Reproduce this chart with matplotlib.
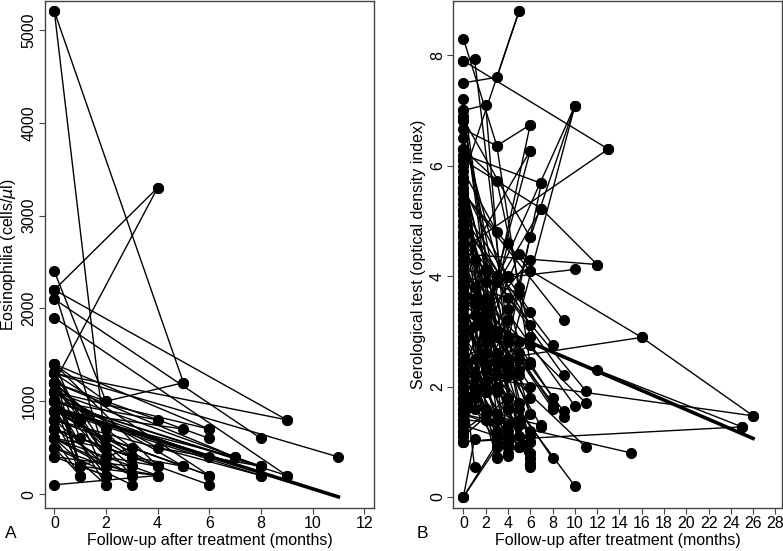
import matplotlib
matplotlib.use("Agg")
import matplotlib.pyplot as plt

plt.rcParams['font.family'] = ['Liberation Sans', 'DejaVu Sans']
plt.rcParams['font.size'] = 11.5

# Panel A: eosinophilia per patient (months after treatment, cells/ul)
a_months = [
    [0, 5], [0, 2], [0, 4], [0, 4], [0, 2], [0, 9], [0, 8], [0, 9], [0, 2],
    [0, 6], [0, 11], [0, 9], [0, 7], [0, 8], [0, 6], [0, 4], [0, 5], [0, 8],
    [0, 6], [0, 5], [0, 4], [0, 4], [0, 6], [0, 3], [0, 3], [0, 2], [0, 2],
    [0, 2], [0, 2], [0, 2], [0, 1], [0, 1], [0, 1], [0, 4], [0, 2], [0, 3],
    [0, 2], [0, 3], [0, 4], [0, 6], [0, 5], [0, 2], [0, 3], [0, 2], [0, 1],
    [0, 2], [0, 1], [0, 3], [0, 8], [0, 8], [0, 2], [0, 4], [0, 2, 5],
    [0, 1, 2], [0, 1, 3], [0, 2, 4], [0, 6], [0, 7], [0, 9], [0, 3],
    [0, 1, 2], [0, 2, 3], [0, 1, 4], [0, 2], [0, 3], [0, 1], [0, 2, 6],
    [0, 4, 8], [0, 3, 5], [0, 2, 4], [0, 1, 3], [0, 6],
]
a_values = [
    [5200, 1200], [5200, 500], [2200, 3300], [1200, 3300], [2400, 1000],
    [2200, 800], [2100, 600], [1900, 200], [2200, 400], [1400, 700],
    [1300, 400], [1300, 800], [1200, 400], [1100, 300], [1000, 400],
    [1000, 800], [900, 700], [900, 200], [800, 200], [800, 300], [700, 300],
    [600, 200], [700, 100], [600, 200], [500, 100], [1000, 100], [900, 200],
    [800, 300], [1300, 400], [700, 500], [1100, 300], [600, 200], [900, 800],
    [100, 200], [1200, 700], [1100, 500], [600, 100], [900, 400], [1400, 300],
    [1300, 200], [1100, 300], [500, 300], [700, 200], [400, 200], [500, 200],
    [1400, 200], [1200, 300], [1000, 300], [800, 200], [1000, 300], [600, 500],
    [900, 300], [1400, 1000, 1200], [1300, 300, 200], [1100, 300, 500],
    [1000, 400, 300], [1200, 600], [900, 400], [1000, 200], [400, 300],
    [1200, 800, 400], [1000, 500, 200], [800, 300, 200], [1300, 500],
    [1200, 400], [1000, 200], [900, 600, 200], [1100, 500, 300],
    [700, 400, 300], [600, 300, 200], [1300, 600, 400], [1100, 700],
]
a_trend_x = [0, 11]
a_trend_y = [930, -30]

# Panel B: serological test per patient (months, optical density index)
b_months = [
    [0, 3, 6], [0, 1, 4], [0, 13], [0, 3, 5], [0, 5], [0, 2, 4], [0, 6, 10],
    [0, 10], [0, 13], [0, 3, 6], [0, 6], [0, 3, 6], [0, 7], [0, 7, 12],
    [0, 6, 16, 26], [0, 3], [0, 2, 6], [0, 4, 10], [0, 12], [0, 9], [0, 6],
    [0, 6], [0, 8], [0, 12, 25], [0, 25], [0, 26], [0, 15], [0, 16], [0, 9],
    [0, 11], [0, 11], [0, 10], [0, 8], [0, 8], [0, 9], [0, 9], [0, 7], [0, 6],
    [0, 6], [0, 6], [0, 8], [0, 11], [0, 10], [0, 3], [0, 3], [0, 4], [0, 4],
    [0, 1], [0, 1], [0, 6], [0, 6], [0, 6], [0, 4], [0, 5], [0, 2], [0, 3],
    [0, 4], [0, 5], [0, 3], [0, 2], [0, 4], [0, 6], [0, 1, 3], [0, 2, 5],
    [0, 1, 2], [0, 2, 4], [0, 3, 6], [0, 2, 6], [0, 4, 8], [0, 1, 5],
    [0, 3, 6], [0, 2, 6], [0, 4, 6], [0, 1, 3], [0, 2, 4], [0, 5], [0, 3],
    [0, 4], [0, 2], [0, 5], [0, 4], [0, 3], [0, 2], [0, 6], [0, 1, 4], [0, 4],
    [0, 3], [0, 2], [0, 5], [0, 4], [0, 6], [0, 1, 4], [0, 5], [0, 4], [0, 3],
    [0, 6], [0, 2], [0, 3, 6], [0, 3], [0, 4], [0, 1, 2], [0, 2, 5],
    [0, 1, 3], [0, 5, 7], [0, 2, 6],
    [0, 2, 6], [0, 3, 6], [0, 4, 10], [0, 4, 7], [0, 2, 7], [0, 3, 6],
    [0, 2, 5], [0, 1, 3], [0, 2], [0, 4], [0, 5], [0, 1, 4], [0, 2, 3],
    [0, 1, 2], [0, 2, 5], [0, 3, 4], [0, 1, 4], [0, 2, 4], [0, 3, 5],
    [0, 1, 2], [0, 4, 6], [0, 2, 6], [0, 5], [0, 3], [0, 4], [0, 2], [0, 1],
    [0, 6],
]
b_values = [
    [8.3, 6.36, 2.4], [7.9, 7.94, 2.9], [7.9, 6.3], [7.5, 7.6, 8.8],
    [5.8, 8.8], [7.0, 7.1, 2.2], [6.84, 4.7, 7.08], [2.6, 7.08], [4.5, 6.3],
    [6.66, 6.36, 6.74], [4.2, 6.27], [6.3, 5.73, 2.9], [6.2, 5.68],
    [6.1, 5.22, 4.21], [5.5, 4.1, 2.89, 1.47], [5.9, 4.8], [5.75, 4.13, 1.0],
    [5.6, 3.98, 4.12], [4.4, 4.21], [5.5, 3.2], [5.2, 3.35], [5.1, 3.12],
    [4.9, 2.76], [3.3, 2.3, 1.27], [1.0, 1.27], [2.2, 1.47], [1.5, 0.8],
    [2.4, 2.89], [4.75, 2.2], [4.6, 1.92], [3.9, 1.7], [4.45, 1.65],
    [4.3, 1.8], [4.1, 1.65], [4.0, 1.55], [3.8, 1.45], [3.7, 1.27],
    [3.5, 0.55], [3.3, 0.69], [3.2, 0.8], [3.1, 0.7], [3.0, 0.9], [2.9, 0.2],
    [2.8, 0.9], [2.7, 0.72], [2.6, 0.9], [2.5, 0.75], [0.0, 1.05],
    [2.3, 0.54], [2.2, 2.44], [2.1, 2.75], [2.0, 2.9], [1.9, 2.4], [1.8, 2.5],
    [1.7, 2.3], [1.6, 2.0], [1.5, 1.2], [1.4, 1.3], [1.3, 1.1], [1.2, 1.5],
    [1.1, 1.8], [1.0, 1.1], [3.7, 3.5, 2.2], [3.1, 2.6, 1.7],
    [2.9, 2.5, 1.9], [2.7, 1.9, 1.3], [4.9, 3.0, 1.5], [4.3, 3.3, 2.0],
    [3.5, 2.8, 1.6], [3.3, 3.6, 2.2], [2.5, 2.9, 1.8], [2.3, 1.6, 1.2],
    [2.1, 2.2, 1.0], [1.9, 1.6, 1.0], [1.8, 1.4, 1.0], [1.6, 2.3],
    [1.5, 2.6], [1.3, 3.2], [1.1, 3.4], [4.0, 3.7], [4.1, 4.0], [5.0, 4.0],
    [4.5, 4.1], [3.8, 4.1], [3.4, 3.8, 3.6], [5.2, 2.3], [6.1, 1.5],
    [6.3, 1.9], [6.8, 1.6], [7.0, 1.0], [5.6, 1.5], [3.0, 3.1, 1.1],
    [2.6, 0.9], [2.4, 1.1], [3.6, 0.7], [4.7, 0.6], [3.2, 2.4],
    [2.0, 1.9, 2.4], [0.0, 0.9], [0.0, 1.3], [2.8, 2.2, 1.4],
    [3.9, 3.0, 2.6], [2.4, 1.8, 1.2], [1.7, 1.4, 1.3], [3.4, 2.1, 0.8],
    [1.6, 3.0, 6.74], [1.2, 4.0, 6.27], [1.5, 2.5, 7.08], [1.3, 2.8, 5.68],
    [2.2, 3.5, 5.22], [1.8, 2.2, 4.71], [1.1, 2.8, 3.8], [1.4, 2.2, 3.9],
    [1.0, 3.6], [1.2, 4.6], [2.0, 4.4], [1.5, 2.0, 3.4], [2.6, 3.4, 2.0],
    [4.8, 3.8, 2.6], [5.3, 3.9, 1.1], [5.7, 2.4, 1.6], [6.0, 4.3, 0.9],
    [4.2, 2.0, 0.8], [3.6, 1.4, 0.9], [2.3, 1.9, 1.6], [4.4, 1.6, 0.6],
    [3.9, 3.1, 0.7], [6.5, 2.8], [7.2, 3.0], [6.9, 1.8], [5.4, 2.9],
    [4.6, 3.3], [2.8, 4.3],
]
b_trend_x = [0, 26]
b_trend_y = [3.32, 1.06]

xlabel = "Follow-up after treatment (months)"
spine_color = "#444444"


def style_axes(ax):
    for s in ax.spines.values():
        s.set_color(spine_color)
        s.set_linewidth(1.0)
    ax.tick_params(direction="out", length=4, width=0.8, color=spine_color, pad=2)
    for lab in ax.get_yticklabels():
        lab.set_rotation(90)
        lab.set_va("center")


def spaghetti(ax, months, values, trend_x, trend_y):
    for m, v in zip(months, values):
        ax.plot(m, v, "-o", color="black", lw=1.0, ms=7, zorder=2)
    ax.plot(trend_x, trend_y, "-", color="black", lw=2.6, zorder=3)


fig = plt.figure(figsize=(7.83, 5.51), dpi=100)

ax1 = fig.add_axes([0.0575, 0.078, 0.4202, 0.920])
spaghetti(ax1, a_months, a_values, a_trend_x, a_trend_y)
ax1.set_xlim(-0.36, 12.38)
ax1.set_ylim(-150, 5310)
ax1.set_xticks(range(0, 13, 2))
ax1.set_yticks(range(0, 5001, 1000))
ax1.set_xlabel(xlabel, labelpad=1)
ax1.set_ylabel("Eosinophilia (cells/$\\mu$l)", labelpad=3)
style_axes(ax1)
fig.text(0.006, 0.024, "A", fontsize=12.5)

ax2 = fig.add_axes([0.579, 0.078, 0.4198, 0.920])
spaghetti(ax2, b_months, b_values, b_trend_x, b_trend_y)
ax2.set_xlim(-0.9, 28.6)
ax2.set_ylim(-0.2, 8.98)
ax2.set_xticks(range(0, 29, 2))
ax2.set_yticks(range(0, 9, 2))
ax2.set_xlabel(xlabel, labelpad=1)
ax2.set_ylabel("Serological test (optical density index)", labelpad=3)
style_axes(ax2)
fig.text(0.532, 0.024, "B", fontsize=12.5)

fig.savefig("out.png", dpi=100)
